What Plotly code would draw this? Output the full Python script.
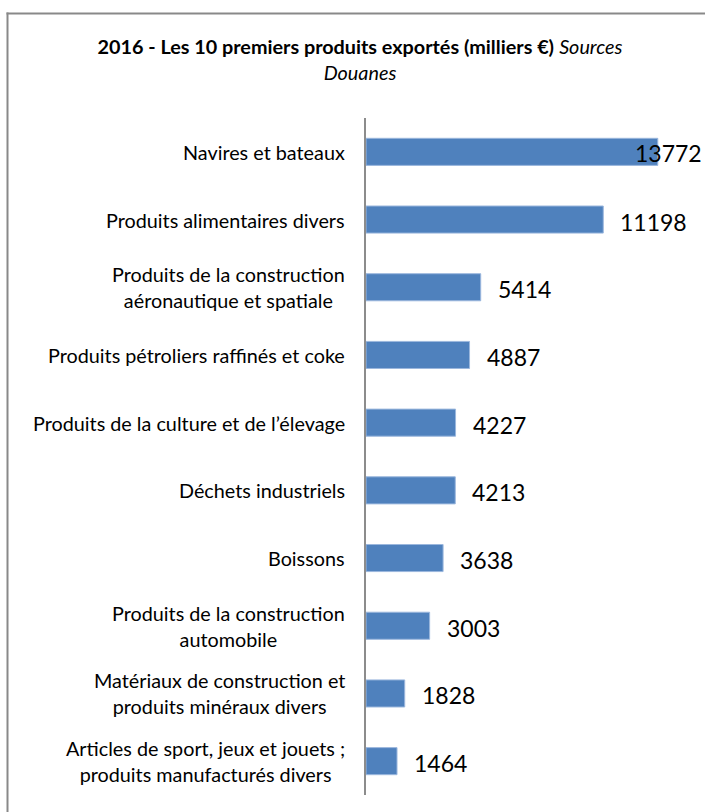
import plotly.graph_objects as go

categories = [
    "Navires et bateaux",
    "Produits alimentaires divers",
    "Produits de la construction<br>aéronautique et spatiale",
    "Produits pétroliers raffinés et coke",
    "Produits de la culture et de l’élevage",
    "Déchets industriels",
    "Boissons",
    "Produits de la construction<br>automobile",
    "Matériaux de construction et<br>produits minéraux divers",
    "Articles de sport, jeux et jouets ;<br>produits manufacturés divers",
]
values = [13772, 11198, 5414, 4887, 4227, 4213, 3638, 3003, 1828, 1464]

W, H = 705, 812
L, R, T, B = 366, 0, 118, 17
XMAX = 16000
plot_w = W - L - R
plot_h = H - T - B

FONT = "Lato"

fig = go.Figure()
fig.add_trace(go.Bar(
    x=values, y=categories, orientation="h",
    marker=dict(color="#4F81BD", line=dict(color="#9bb7dd", width=1)),
    hoverinfo="skip",
))

annotations = []
for c in categories:
    annotations.append(dict(
        x=0, xref="paper", y=c, yref="y", text=c, showarrow=False,
        xanchor="right", align="center", xshift=-19,
        font=dict(family=FONT, size=19.8, color="#000000"),
    ))
for c, v in zip(categories, values):
    txt = str(v)
    px_end = v / XMAX * plot_w
    est_w = 13.2 * len(txt)
    if px_end + 17 + est_w > plot_w - 1:
        annotations.append(dict(
            x=1, xref="paper", y=c, yref="y", text=txt, showarrow=False,
            xanchor="right", xshift=-1, yshift=-1,
            font=dict(family=FONT, size=23, color="#000000"),
        ))
    else:
        annotations.append(dict(
            x=v, xref="x", y=c, yref="y", text=txt, showarrow=False,
            xanchor="left", xshift=15, yshift=-2,
            font=dict(family=FONT, size=23, color="#000000"),
        ))

def xp(px):
    return (px - L) / plot_w

def yp(py):
    return (H - B - py) / plot_h

frame = dict(color="#898989", width=2)
shapes = [
    dict(type="line", xref="paper", yref="paper",
         x0=xp(6.5), x1=xp(720), y0=yp(13.5), y1=yp(13.5), line=frame),
    dict(type="line", xref="paper", yref="paper",
         x0=xp(7.5), x1=xp(7.5), y0=yp(12.5), y1=yp(830), line=frame),
]

fig.update_layout(
    width=W, height=H,
    margin=dict(l=L, r=R, t=T, b=B, pad=0),
    paper_bgcolor="white", plot_bgcolor="white",
    showlegend=False,
    bargap=0.6,
    title=dict(
        text="<b>2016 - Les 10 premiers produits exportés (milliers €)</b> <i>Sources</i><br><i>Douanes</i>",
        x=360 / W, xref="container", xanchor="center",
        y=1 - 54 / H, yref="container", yanchor="top",
        font=dict(family=FONT, size=19.8, color="#000000"),
    ),
    xaxis=dict(range=[0, XMAX], visible=False, fixedrange=True),
    yaxis=dict(
        autorange="reversed", showticklabels=False, showgrid=False,
        zeroline=False, showline=True, linecolor="#8c8c8c", linewidth=2,
        ticks="", fixedrange=True,
    ),
    annotations=annotations,
    shapes=shapes,
)

fig.write_html(
    "out.html",
    config={"displayModeBar": False},
    post_script="document.body.style.margin='0';document.body.style.overflow='hidden';",
)
